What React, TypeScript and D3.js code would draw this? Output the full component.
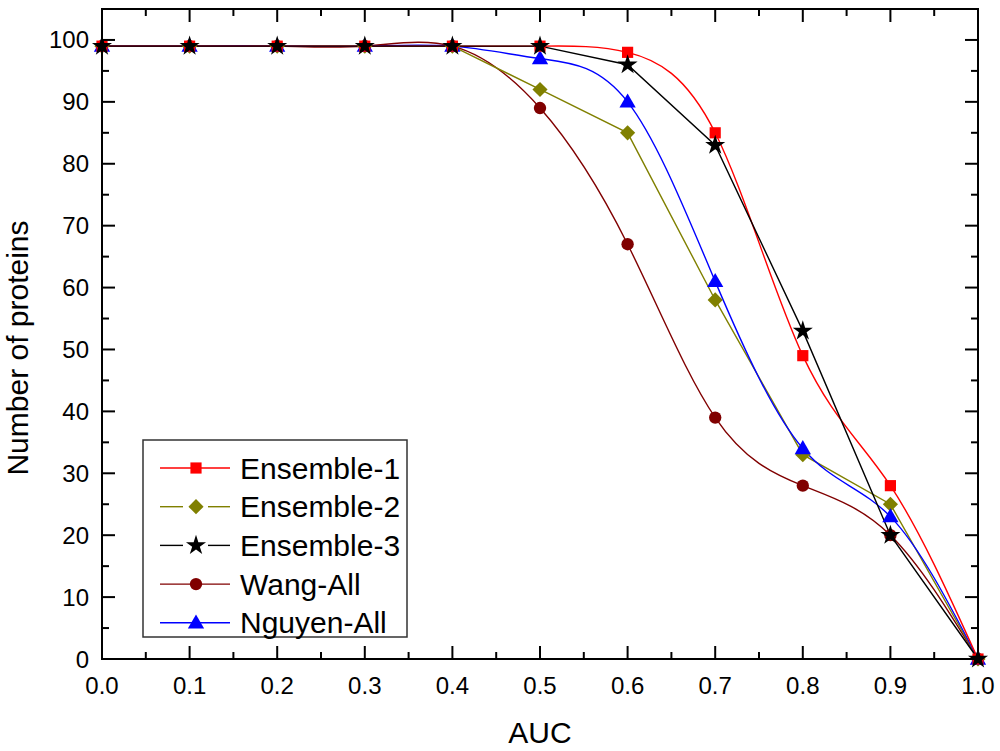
import * as d3 from "d3";

// AUC thresholds
const auc = [0, 0.1, 0.2, 0.3, 0.4, 0.5, 0.6, 0.7, 0.8, 0.9, 1.0];

// number of proteins per method
const ensemble1 = [99, 99, 99, 99, 99, 99, 98, 85, 49, 28, 0];
const ensemble2 = [99, 99, 99, 99, 99, 92, 85, 58, 33, 25, 0];
const ensemble3 = [99, 99, 99, 99, 99, 99, 96, 83, 53, 20, 0];
const wangAll = [99, 99, 99, 99, 99, 89, 67, 39, 28, 20, 0];
const nguyenAll = [99, 99, 99, 99, 99, 97, 90, 61, 34, 23, 0];

const xTicks = [0, 0.1, 0.2, 0.3, 0.4, 0.5, 0.6, 0.7, 0.8, 0.9, 1.0];
const yTicks = [0, 10, 20, 30, 40, 50, 60, 70, 80, 90, 100];

type Marker = "square" | "diamond" | "star" | "circle" | "triangle";

const series: {
	name: string;
	values: number[];
	color: string;
	marker: Marker;
	curve: d3.CurveFactory;
	gap: boolean;
}[] = [
	{ name: "Ensemble-1", values: ensemble1, color: "#ff0000", marker: "square", curve: d3.curveNatural, gap: false },
	{ name: "Ensemble-2", values: ensemble2, color: "#808000", marker: "diamond", curve: d3.curveLinear, gap: true },
	{ name: "Ensemble-3", values: ensemble3, color: "#000000", marker: "star", curve: d3.curveLinear, gap: true },
	{ name: "Wang-All", values: wangAll, color: "#800000", marker: "circle", curve: d3.curveNatural, gap: false },
	{ name: "Nguyen-All", values: nguyenAll, color: "#0000ff", marker: "triangle", curve: d3.curveNatural, gap: false },
];

// draw order so the star sits on top like the original
const drawOrder = ["Wang-All", "Ensemble-2", "Nguyen-All", "Ensemble-1", "Ensemble-3"];

const FONT = "'Liberation Sans', Arial, Helvetica, sans-serif";

const symbolFor: Record<Marker, d3.SymbolType> = {
	square: d3.symbolSquare,
	diamond: d3.symbolSquare, // rotated 45deg below
	star: d3.symbolStar,
	circle: d3.symbolCircle,
	triangle: d3.symbolTriangle,
};
const sizeFor: Record<Marker, number> = {
	square: 125,
	diamond: 115,
	star: 125,
	circle: 120,
	triangle: 115,
};

const markerPath = (m: Marker) => d3.symbol(symbolFor[m], sizeFor[m])()!;
const markerRot = (m: Marker) => (m === "diamond" ? " rotate(45)" : m === "triangle" ? " translate(0,1)" : "");

const App = () => {
	const left = 102;
	const right = 978;
	const top = 9;
	const bottom = 659;

	const x = d3.scaleLinear().domain([0, 1]).range([left, right]);
	const y = d3.scaleLinear().domain([0, 105]).range([bottom, top]);

	const minorX = d3.range(0.05, 1, 0.1);
	const minorY = d3.range(5, 105, 10);

	const majorLen = 13;
	const minorLen = 7;

	const ordered = drawOrder.map((n) => series.find((s) => s.name === n)!);

	// legend layout
	const lgX = 143;
	const lgY = 440;
	const lgW = 264;
	const lgH = 197;
	const rowY = (i: number) => 468 + i * 38.7;

	return (
		<svg
			width={1000}
			height={751}
			style={{ position: "absolute", left: 0, top: 0, background: "#fff" }}
			fontFamily={FONT}
		>
			<rect x={0} y={0} width={1000} height={751} fill="#fff" />

			{/* curves */}
			{ordered.map((s) => {
				const line = d3
					.line<number>()
					.x((_, i) => x(auc[i]))
					.y((v) => y(v))
					.curve(s.curve);
				return (
					<path
						key={s.name + "-line"}
						d={line(s.values)!}
						fill="none"
						stroke={s.color}
						strokeWidth={1.4}
					/>
				);
			})}

			{/* markers */}
			{ordered.map((s) => (
				<g key={s.name + "-pts"} fill={s.color}>
					{s.values.map((v, i) => (
						<path
							key={i}
							d={markerPath(s.marker)}
							transform={`translate(${x(auc[i])},${y(v)})${markerRot(s.marker)}`}
						/>
					))}
				</g>
			))}

			{/* ticks on all four sides, pointing inward */}
			<g stroke="#000" strokeWidth={2}>
				{xTicks.map((t) => (
					<g key={"xt" + t}>
						<line x1={x(t)} x2={x(t)} y1={bottom} y2={bottom - majorLen} />
						<line x1={x(t)} x2={x(t)} y1={top} y2={top + majorLen} />
					</g>
				))}
				{minorX.map((t) => (
					<g key={"xm" + t}>
						<line x1={x(t)} x2={x(t)} y1={bottom} y2={bottom - minorLen} />
						<line x1={x(t)} x2={x(t)} y1={top} y2={top + minorLen} />
					</g>
				))}
				{yTicks.map((t) => (
					<g key={"yt" + t}>
						<line x1={left} x2={left + majorLen} y1={y(t)} y2={y(t)} />
						<line x1={right} x2={right - majorLen} y1={y(t)} y2={y(t)} />
					</g>
				))}
				{minorY.map((t) => (
					<g key={"ym" + t}>
						<line x1={left} x2={left + minorLen} y1={y(t)} y2={y(t)} />
						<line x1={right} x2={right - minorLen} y1={y(t)} y2={y(t)} />
					</g>
				))}
			</g>

			{/* frame */}
			<rect
				x={left}
				y={top}
				width={right - left}
				height={bottom - top}
				fill="none"
				stroke="#000"
				strokeWidth={2}
			/>

			{/* tick labels */}
			{xTicks.map((t) => (
				<text key={"xl" + t} x={x(t)} y={694} textAnchor="middle" fontSize={24} fill="#000">
					{d3.format(".1f")(t)}
				</text>
			))}
			{yTicks.map((t) => (
				<text
					key={"yl" + t}
					x={89}
					y={y(t)}
					textAnchor="end"
					dominantBaseline="central"
					fontSize={24}
					fill="#000"
				>
					{t}
				</text>
			))}

			{/* axis titles */}
			<text x={(left + right) / 2} y={743} textAnchor="middle" fontSize={30} fill="#000">
				AUC
			</text>
			<text
				transform={`translate(28,${(top + bottom) / 2 + 14}) rotate(-90)`}
				textAnchor="middle"
				fontSize={30}
				fill="#000"
			>
				Number of proteins
			</text>

			{/* legend */}
			<rect x={lgX} y={lgY} width={lgW} height={lgH} fill="#fff" stroke="#333" strokeWidth={1.5} />
			{series.map((s, i) => {
				const cy = rowY(i);
				return (
					<g key={s.name + "-lg"}>
						{s.gap ? (
							<>
								<line x1={160} x2={183} y1={cy} y2={cy} stroke={s.color} strokeWidth={1.4} />
								<line x1={208} x2={230} y1={cy} y2={cy} stroke={s.color} strokeWidth={1.4} />
							</>
						) : (
							<line x1={160} x2={230} y1={cy} y2={cy} stroke={s.color} strokeWidth={1.4} />
						)}
						<path
							d={markerPath(s.marker)}
							transform={`translate(196,${cy})${markerRot(s.marker)}`}
							fill={s.color}
						/>
						<text x={240} y={cy} dominantBaseline="central" fontSize={30} fill="#000">
							{s.name}
						</text>
					</g>
				);
			})}
		</svg>
	);
};

export default App;
